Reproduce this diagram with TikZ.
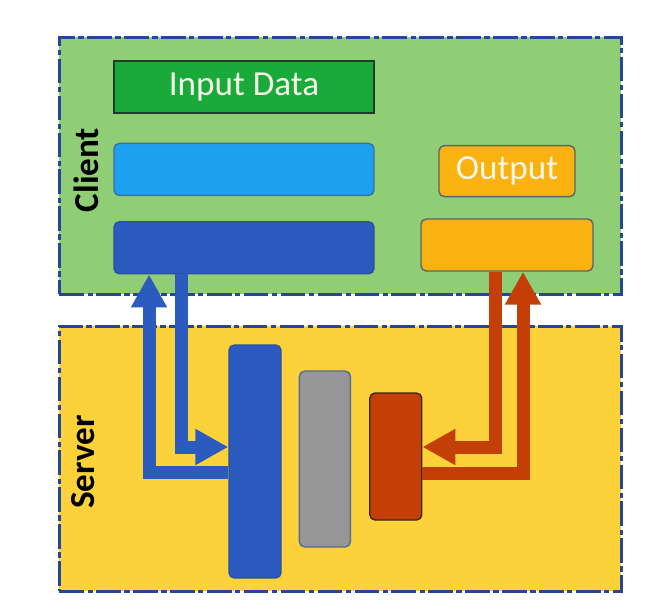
\documentclass[tikz,border=0pt]{standalone}
\usepackage{fontspec}
\setmainfont{Carlito}
\usetikzlibrary{arrows.meta,positioning}

\definecolor{clientgreen}{RGB}{143,206,116}
\definecolor{serveryellow}{RGB}{251,210,58}
\definecolor{zoneline}{RGB}{40,70,150}
\definecolor{inputgreen}{RGB}{26,170,58}
\definecolor{inputedge}{RGB}{30,60,40}
\definecolor{skyblue}{RGB}{30,160,240}
\definecolor{skyedge}{RGB}{60,110,160}
\definecolor{deepblue}{RGB}{44,91,192}
\definecolor{deepedge}{RGB}{40,80,160}
\definecolor{amber}{RGB}{249,178,15}
\definecolor{amberedge}{RGB}{90,100,110}
\definecolor{grayblock}{RGB}{150,150,150}
\definecolor{grayedge}{RGB}{80,110,150}
\definecolor{rust}{RGB}{196,62,8}
\definecolor{rustedge}{RGB}{60,40,20}
\definecolor{labeltext}{RGB}{245,245,232}

\tikzstyle{zone} = [rectangle, draw=zoneline, line width=1.6pt,
    dash pattern=on 14pt off 2pt on 3pt off 2pt, anchor=north west]
\tikzstyle{block} = [rectangle, draw, line width=0.8pt, rounded corners=3pt,
    minimum width=5.2cm, minimum height=1.04cm, inner sep=0pt, text=labeltext]
\tikzstyle{bar} = [block, minimum width=1.04cm]
\tikzstyle{flow} = [line width=7.4pt, line join=miter,
    -{Triangle[width=0.68cm,length=0.66cm]}]

\begin{document}
\begin{tikzpicture}[x=0.02cm,y=-0.02cm,font=\fontsize{20}{24}\selectfont,
                    node distance=0.5cm]
  \useasboundingbox (0,0) rectangle (672,609);

  % client and server areas
  \node[zone, fill=clientgreen, minimum width=11.24cm, minimum height=5.14cm] (client) at (58,36) {};
  \node[zone, fill=serveryellow, minimum width=11.24cm, minimum height=5.3cm] (server) at (58,325) {};
  \node[rotate=90, font=\fontsize{20}{24}\selectfont\bfseries] (clientlbl) at (86,170) {Client};
  \node[rotate=90, font=\fontsize{20}{24}\selectfont\bfseries] (serverlbl) at (83,462) {Server};

  % client blocks
  \node[block, sharp corners, fill=inputgreen, draw=inputedge] (input) at (244,87) {Input Data};
  \node[block, fill=skyblue, draw=skyedge] (encode) [below=0.58cm of input] {};
  \node[block, fill=deepblue, draw=deepedge] (pack) [below=0.5cm of encode] {};
  \node[block, fill=amber, draw=amberedge, minimum width=3.44cm] (unpack) at (507,245) {};
  \node[block, fill=amber, draw=amberedge, minimum width=2.72cm,
        minimum height=1.02cm] (output) [above=0.42cm of unpack] {Output};

  % server blocks
  \node[bar, fill=deepblue, draw=deepedge, minimum height=4.66cm] (bar1) at (255,461.5) {};
  \node[bar, fill=grayblock, draw=grayedge, minimum width=1.02cm,
        minimum height=3.52cm] (bar2) [right=0.34cm of bar1, yshift=0.05cm] {};
  \node[bar, fill=rust, draw=rustedge, minimum height=2.54cm] (bar3) [right=0.36cm of bar2, yshift=0.05cm] {};

  % traffic
  \draw[flow, draw=deepblue] ([yshift=-0.21cm]bar1.west) -| ([xshift=-1.9cm]pack.south);
  \draw[flow, draw=deepblue] ([xshift=-1.26cm]pack.south) |- ([yshift=0.29cm]bar1.west);
  \draw[flow, draw=rust] ([xshift=-0.24cm]unpack.south) |- ([yshift=0.19cm]bar3.east);
  \draw[flow, draw=rust] ([yshift=-0.33cm]bar3.east) -| ([xshift=0.32cm]unpack.south);
\end{tikzpicture}
\end{document}
